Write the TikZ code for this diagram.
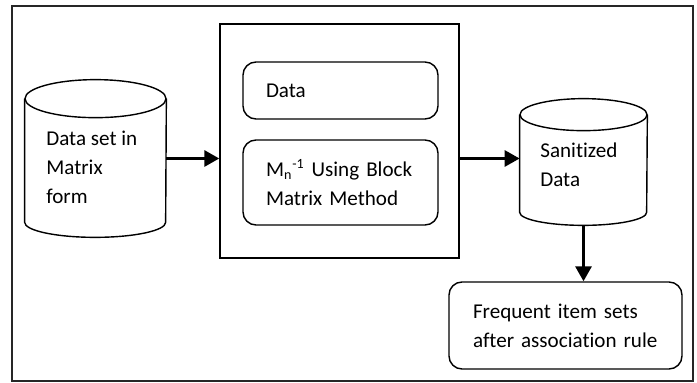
\documentclass[tikz,border=0pt]{standalone}
\usepackage{fontspec}
\setmainfont{Carlito}[Ligatures=NoCommon]
\usetikzlibrary{arrows.meta, positioning}

% drum outline round a named node: name, x radius, top y radius, bottom y radius
\newcommand{\drumshape}[4]{%
    \draw[line width=0.8pt] ([yshift=-#3]#1.north west) -- ([yshift=#4]#1.south west)
        arc[start angle=180, end angle=360, x radius=#2, y radius=#4]
        -- ([yshift=-#3]#1.north east);
    \draw[line width=0.8pt] ([yshift=-#3]#1.north) ellipse[x radius=#2, y radius=#3];
}

\begin{document}
\begin{tikzpicture}[
    db/.style={inner sep=0pt},
    card/.style={draw, rounded corners=0.26cm, line width=0.8pt, align=left, inner ysep=0pt, font=\fontsize{12}{16.5}\selectfont},
    txt/.style={align=left, inner sep=0pt, anchor=west, font=\fontsize{12}{16.5}\selectfont},
    arrow/.style={-{Triangle[length=0.3cm, width=0.32cm]}, line width=1.7pt}
]
    \useasboundingbox (0,0) rectangle (13.94,-7.66);
    % outer frame
    \draw[line width=1.1pt, black!85] (0.24,-0.12) rectangle (13.86,-7.62);

    % input data set
    \node[db, minimum width=2.82cm, minimum height=3.14cm] (matrixdb) at (1.91,-3.17) {};
    \drumshape{matrixdb}{1.41cm}{0.38cm}{0.30cm}
    \node[txt] (matrixtxt) at (0.92,-3.34) {Data set in\\Matrix\\form};

    % middle block
    \node[draw, line width=0.8pt, minimum width=4.78cm, minimum height=4.68cm] (process) at (6.79,-2.82) {};
    \node[card, minimum height=1.14cm, inner xsep=0.46cm, text width=2.98cm] (data) at (6.81,-1.81) {Data};
    \node[card, minimum height=1.70cm, inner xsep=0.46cm, text width=2.98cm] (inverse) at (6.81,-3.65)
    {M\textsubscript{n}\textsuperscript{-1} Using Block\\Matrix Method};

    % sanitized output
    \node[db, minimum width=2.54cm, minimum height=2.52cm] (sanitdb) at (11.67,-3.24) {};
    \drumshape{sanitdb}{1.27cm}{0.32cm}{0.26cm}
    \node[txt] (sanittxt) at (10.80,-3.30) {Sanitized\\Data};

    % result
    \node[card, minimum height=1.74cm, inner xsep=0.48cm, text width=3.70cm] (result) at (11.31,-6.51)
    {Frequent item sets\\after association rule};

    % arrows
    \draw[arrow] (matrixdb.east) -- (matrixdb.east -| process.west);
    \draw[arrow] (process.east |- matrixdb.east) -- (sanitdb.west |- matrixdb.east);
    \draw[arrow] (sanitdb.south) -- (sanitdb.south |- result.north);
\end{tikzpicture}
\end{document}
